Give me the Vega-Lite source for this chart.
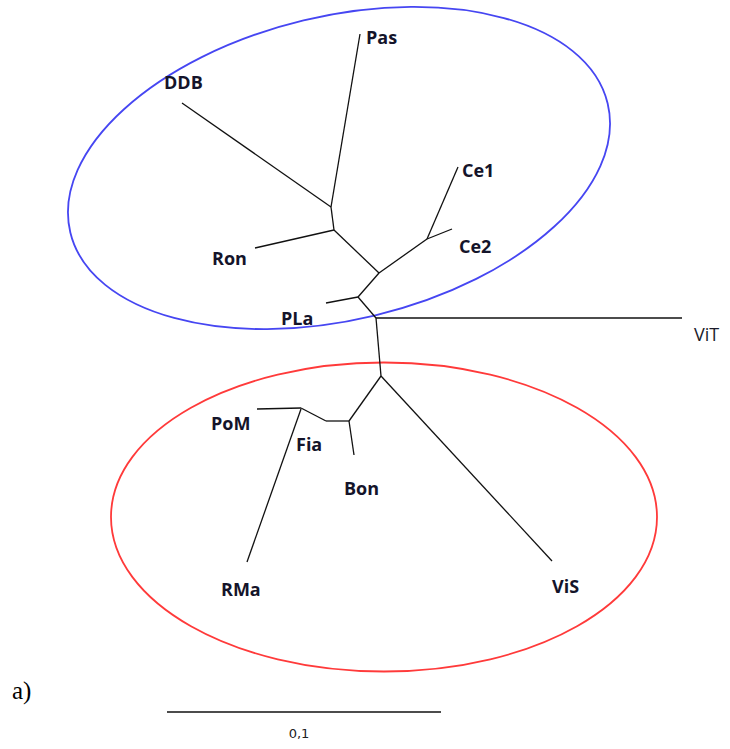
{
  "$schema": "https://vega.github.io/schema/vega-lite/v6.json",
  "width": 730,
  "height": 749,
  "padding": 0,
  "autosize": {"type": "none"},
  "background": "white",
  "config": {"view": {"stroke": null}},
  "datasets": {
    "groups": [
      {"group": "blue", "x": 339, "y": 168},
      {"group": "red", "x": 384, "y": 517}
    ],
    "branches": [
      {"from": "root", "to": "ViT", "x": 376, "y": 318, "x2": 682, "y2": 318},
      {"from": "root", "to": "n1", "x": 376, "y": 318, "x2": 358, "y2": 297},
      {"from": "n1", "to": "PLa", "x": 358, "y": 297, "x2": 326, "y2": 303},
      {"from": "n1", "to": "n2", "x": 358, "y": 297, "x2": 379, "y2": 273},
      {"from": "n2", "to": "n3", "x": 379, "y": 273, "x2": 427, "y2": 239},
      {"from": "n3", "to": "Ce1", "x": 427, "y": 239, "x2": 458, "y2": 167},
      {"from": "n3", "to": "Ce2", "x": 427, "y": 239, "x2": 452, "y2": 229},
      {"from": "n2", "to": "n4", "x": 379, "y": 273, "x2": 334, "y2": 230},
      {"from": "n4", "to": "Ron", "x": 334, "y": 230, "x2": 255, "y2": 248},
      {"from": "n4", "to": "n5", "x": 334, "y": 230, "x2": 331, "y2": 207},
      {"from": "n5", "to": "DDB", "x": 331, "y": 207, "x2": 182, "y2": 103},
      {"from": "n5", "to": "Pas", "x": 331, "y": 207, "x2": 360, "y2": 34},
      {"from": "root", "to": "n6", "x": 376, "y": 318, "x2": 381, "y2": 376},
      {"from": "n6", "to": "ViS", "x": 381, "y": 376, "x2": 552, "y2": 561},
      {"from": "n6", "to": "n7", "x": 381, "y": 376, "x2": 349, "y2": 421},
      {"from": "n7", "to": "Bon", "x": 349, "y": 421, "x2": 354, "y2": 455},
      {"from": "n7", "to": "n7b", "x": 349, "y": 421, "x2": 326, "y2": 421},
      {"from": "n7b", "to": "n8", "x": 326, "y": 421, "x2": 301, "y2": 408},
      {"from": "n8", "to": "PoM", "x": 301, "y": 408, "x2": 257, "y2": 409},
      {"from": "n8", "to": "RMa", "x": 301, "y": 409, "x2": 247, "y2": 562}
    ],
    "labels": [
      {"name": "Pas", "x": 366, "y": 39},
      {"name": "DDB", "x": 164, "y": 84},
      {"name": "Ce1", "x": 462, "y": 172},
      {"name": "Ce2", "x": 459, "y": 248},
      {"name": "Ron", "x": 212, "y": 260},
      {"name": "PLa", "x": 281, "y": 320},
      {"name": "ViT", "x": 694, "y": 336},
      {"name": "PoM", "x": 211, "y": 425},
      {"name": "Fia", "x": 296, "y": 446},
      {"name": "Bon", "x": 344, "y": 490},
      {"name": "RMa", "x": 221, "y": 591},
      {"name": "ViS", "x": 552, "y": 588}
    ],
    "scalebar": [
      {"x": 167, "x2": 441, "y": 712, "label": "0,1", "ly": 734}
    ],
    "panel": [
      {"text": "a)", "x": 12, "y": 691}
    ]
  },
  "layer": [
    {
      "data": {"name": "groups"},
      "transform": [{"filter": "datum.group === 'blue'"}],
      "mark": {
        "type": "point",
        "filled": false,
        "shape": "M-1,0C-1,-0.3034,-0.5523,-0.5494,0,-0.5494C0.5523,-0.5494,1,-0.3034,1,0C1,0.3034,0.5523,0.5494,0,0.5494C-0.5523,0.5494,-1,0.3034,-1,0Z",
        "size": 305367,
        "angle": 346.5,
        "stroke": "#4646f2",
        "strokeWidth": 1.8,
        "opacity": 1
      },
      "encoding": {
        "x": {"field": "x", "type": "quantitative", "scale": {"domain": [0, 730], "nice": false, "zero": false}, "axis": null},
        "y": {"field": "y", "type": "quantitative", "scale": {"domain": [0, 749], "nice": false, "zero": false, "reverse": true}, "axis": null}
      }
    },
    {
      "data": {"name": "groups"},
      "transform": [{"filter": "datum.group === 'red'"}],
      "mark": {
        "type": "point",
        "filled": false,
        "shape": "M-1,0C-1,-0.3126,-0.5523,-0.5659,0,-0.5659C0.5523,-0.5659,1,-0.3126,1,0C1,0.3126,0.5523,0.5659,0,0.5659C-0.5523,0.5659,-1,0.3126,-1,0Z",
        "size": 298116,
        "stroke": "#ff3a3a",
        "strokeWidth": 1.8,
        "opacity": 1
      },
      "encoding": {
        "x": {"field": "x", "type": "quantitative"},
        "y": {"field": "y", "type": "quantitative"}
      }
    },
    {
      "data": {"name": "branches"},
      "mark": {"type": "rule", "color": "#111111", "strokeWidth": 1.3},
      "encoding": {
        "x": {"field": "x", "type": "quantitative"},
        "y": {"field": "y", "type": "quantitative"},
        "x2": {"field": "x2"},
        "y2": {"field": "y2"}
      }
    },
    {
      "data": {"name": "labels"},
      "transform": [{"filter": "datum.name !== 'ViT'"}],
      "mark": {"type": "text", "align": "left", "baseline": "middle", "font": "Open Sans", "fontWeight": "bold", "fontSize": 18, "color": "#14142a"},
      "encoding": {
        "x": {"field": "x", "type": "quantitative"},
        "y": {"field": "y", "type": "quantitative"},
        "text": {"field": "name"}
      }
    },
    {
      "data": {"name": "labels"},
      "transform": [{"filter": "datum.name === 'ViT'"}],
      "mark": {"type": "text", "align": "left", "baseline": "middle", "font": "Open Sans", "fontSize": 18, "color": "#1a1a2a"},
      "encoding": {
        "x": {"field": "x", "type": "quantitative"},
        "y": {"field": "y", "type": "quantitative"},
        "text": {"field": "name"}
      }
    },
    {
      "data": {"name": "scalebar"},
      "mark": {"type": "rule", "color": "#111111", "strokeWidth": 1.3},
      "encoding": {
        "x": {"field": "x", "type": "quantitative"},
        "x2": {"field": "x2"},
        "y": {"field": "y", "type": "quantitative"}
      }
    },
    {
      "data": {"name": "scalebar"},
      "mark": {"type": "text", "align": "center", "baseline": "middle", "font": "DejaVu Sans", "fontSize": 13, "color": "#222222"},
      "encoding": {
        "x": {"datum": 299, "type": "quantitative"},
        "y": {"field": "ly", "type": "quantitative"},
        "text": {"field": "label"}
      }
    },
    {
      "data": {"name": "panel"},
      "mark": {"type": "text", "align": "left", "baseline": "middle", "font": "Liberation Serif", "fontSize": 25, "color": "#000000"},
      "encoding": {
        "x": {"field": "x", "type": "quantitative"},
        "y": {"field": "y", "type": "quantitative"},
        "text": {"field": "text"}
      }
    }
  ]
}
